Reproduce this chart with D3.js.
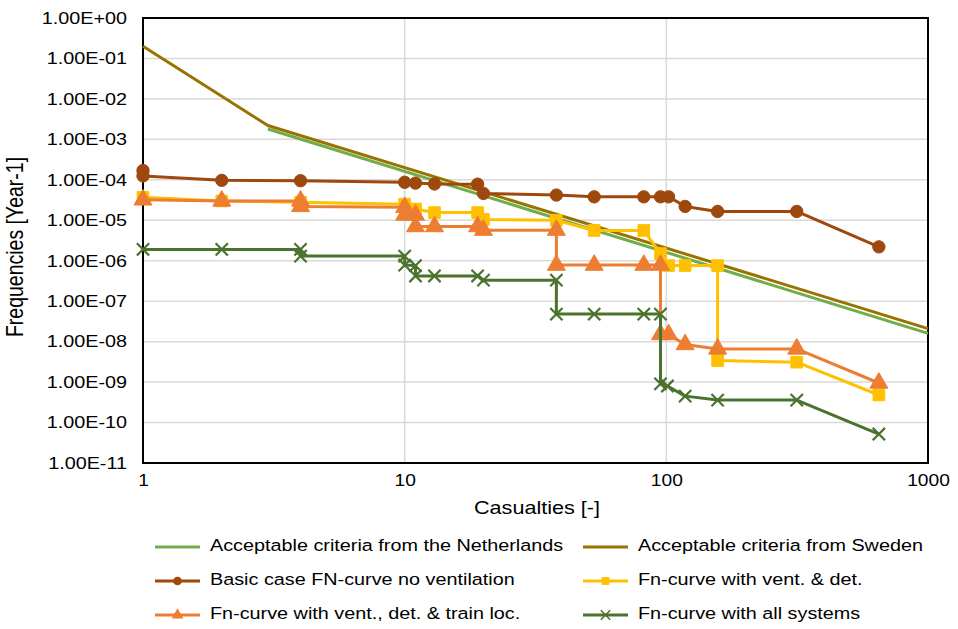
<!DOCTYPE html>
<html lang="en">
<head>
    <meta charset="UTF-8">
    <title>FN-curves</title>
    <script src="https://cdnjs.cloudflare.com/ajax/libs/d3/7.8.5/d3.min.js" charset="utf-8"></script>
    <style>
        body { margin: 0; background: #fff; }
        text { font-family: "Liberation Sans", Arial, Helvetica, sans-serif; fill: #000; }
        .grid line { stroke: #d9d9d9; stroke-width: 1.5px; }
    </style>
</head>
<body>
<svg width="958" height="629"></svg>
<script>
    // criteria lines
    var nlN = [3, 1000];
    var nlF = [1.8e-3, 1.6e-8];
    var seN = [1, 3, 1000];
    var seF = [0.2, 2.2e-3, 2.1e-8];

    // basic case, no ventilation
    var basicN = [1, 1, 2, 4, 10, 11, 13, 19, 20, 38, 53, 82, 95, 102, 118, 157, 315, 649];
    var basicF = [1.7e-4, 1.25e-4, 9.7e-5, 9.5e-5, 8.7e-5, 8.3e-5, 7.9e-5, 7.8e-5, 4.6e-5, 4.2e-5, 3.8e-5, 3.8e-5, 3.8e-5, 3.8e-5, 2.2e-5, 1.65e-5, 1.65e-5, 2.2e-6];

    // vent. & det.
    var ventN = [1, 2, 4, 10, 11, 13, 19, 20, 38, 53, 82, 95, 102, 118, 157, 157, 315, 649];
    var ventF = [3.7e-5, 3.0e-5, 2.8e-5, 2.5e-5, 1.9e-5, 1.55e-5, 1.55e-5, 1.05e-5, 1.0e-5, 5.6e-6, 5.6e-6, 1.5e-6, 7.6e-7, 7.6e-7, 7.6e-7, 3.4e-9, 3.1e-9, 4.8e-10];

    // vent., det. & train loc.
    var trainN = [1, 2, 4, 4, 10, 10, 11, 11, 13, 19, 20, 38, 38, 53, 82, 95, 95, 102, 118, 157, 315, 649];
    var trainF = [3.2e-5, 3.0e-5, 3.0e-5, 2.2e-5, 2.1e-5, 1.35e-5, 1.35e-5, 7.0e-6, 7.0e-6, 7.0e-6, 5.7e-6, 5.7e-6, 7.8e-7, 7.8e-7, 7.8e-7, 7.8e-7, 1.5e-8, 1.5e-8, 8.5e-9, 6.6e-9, 6.6e-9, 9.5e-10];

    // all systems
    var allN = [1, 2, 4, 4, 10, 10, 11, 11, 13, 19, 20, 38, 38, 53, 82, 95, 95, 101, 118, 157, 315, 649];
    var allF = [1.9e-6, 1.9e-6, 1.9e-6, 1.3e-6, 1.3e-6, 7.8e-7, 7.6e-7, 4.2e-7, 4.2e-7, 4.2e-7, 3.3e-7, 3.3e-7, 4.8e-8, 4.8e-8, 4.8e-8, 4.8e-8, 9e-10, 8e-10, 4.5e-10, 3.6e-10, 3.6e-10, 5.2e-11];

    var xTicks = [1, 10, 100, 1000];
    var yTicks = [1, 1e-1, 1e-2, 1e-3, 1e-4, 1e-5, 1e-6, 1e-7, 1e-8, 1e-9, 1e-10, 1e-11];

    var series = [
        {name: "Acceptable criteria from the Netherlands", n: nlN, f: nlF, color: "#70ad47", marker: null},
        {name: "Acceptable criteria from Sweden", n: seN, f: seF, color: "#997300", marker: null},
        {name: "Basic case FN-curve no ventilation", n: basicN, f: basicF, color: "#9e480e", marker: "circle"},
        {name: "Fn-curve with vent. & det.", n: ventN, f: ventF, color: "#ffc000", marker: "square"},
        {name: "Fn-curve with vent., det. & train loc.", n: trainN, f: trainF, color: "#ed7d31", marker: "triangle"},
        {name: "Fn-curve with all systems", n: allN, f: allF, color: "#4a732e", marker: "x"}
    ];

    var sx = 1.2; // text looks horizontally stretched in the original

    var svg = d3.select("svg");
    var pLeft = 143, pRight = 928, pTop = 18, pBottom = 463;

    var x = d3.scaleLog().domain([1, 1000]).range([pLeft, pRight]);
    var y = d3.scaleLog().domain([1e-11, 1]).range([pBottom, pTop]);

    // grid
    var grid = svg.append("g").attr("class", "grid");
    grid.selectAll(".h").data(yTicks).enter().append("line")
            .attr("x1", pLeft).attr("x2", pRight)
            .attr("y1", function (d) { return y(d); })
            .attr("y2", function (d) { return y(d); });
    grid.selectAll(".v").data(xTicks).enter().append("line")
            .attr("y1", pTop).attr("y2", pBottom)
            .attr("x1", function (d) { return x(d); })
            .attr("x2", function (d) { return x(d); });

    // frame
    svg.append("rect")
            .attr("x", pLeft).attr("y", pTop)
            .attr("width", pRight - pLeft).attr("height", pBottom - pTop)
            .attr("fill", "none").attr("stroke", "#000").attr("stroke-width", 2);

    function fmtE(d) {
        var e = Math.round(Math.log10(d));
        var s = e < 0 ? "-" : "+";
        var a = Math.abs(e);
        return "1.00E" + s + (a < 10 ? "0" + a : a);
    }

    var xAxis = svg.append("g")
            .attr("transform", "translate(0," + pBottom + ")")
            .call(d3.axisBottom(x).tickValues(xTicks).tickSize(0).tickPadding(12).tickFormat(d3.format("d")));
    xAxis.select(".domain").remove();
    xAxis.selectAll("text")
            .style("font-size", "16px")
            .attr("transform", "scale(" + sx + ",1)");

    var yAxis = svg.append("g")
            .attr("transform", "translate(" + pLeft + ",0)")
            .call(d3.axisLeft(y).tickValues(yTicks).tickSize(0).tickPadding(16).tickFormat(fmtE));
    yAxis.select(".domain").remove();
    yAxis.selectAll("text")
            .style("font-size", "16.5px")
            .attr("x", -16 / sx)
            .attr("transform", "scale(" + sx + ",1)");

    // axis titles
    svg.append("text")
            .attr("transform", "translate(537,509) scale(" + sx + ",1)")
            .attr("text-anchor", "middle")
            .attr("dominant-baseline", "middle")
            .style("font-size", "18px")
            .text("Casualties [-]");
    svg.append("text")
            .attr("transform", "translate(17,247) rotate(-90) scale(1," + sx + ")")
            .attr("text-anchor", "middle")
            .attr("dominant-baseline", "middle")
            .style("font-size", "19.5px")
            .text("Frequencies [Year-1]");

    var symbols = {
        circle: d3.symbol().type(d3.symbolCircle).size(120),
        square: d3.symbol().type(d3.symbolSquare).size(135),
        triangle: d3.symbol().type(d3.symbolTriangle).size(140),
        x: d3.symbol().type(d3.symbolX).size(100)
    };

    function drawMarker(g, m, color, px, py) {
        var p = g.append("path")
                .attr("d", symbols[m]())
                .attr("transform", "translate(" + px + "," + py + ")");
        if (m === "x") {
            p.attr("fill", "none").attr("stroke", color).attr("stroke-width", 2.2);
        } else {
            p.attr("fill", color).attr("stroke", color).attr("stroke-width", 1);
        }
    }

    var line = d3.line()
            .x(function (d) { return x(d[0]); })
            .y(function (d) { return y(d[1]); });

    series.forEach(function (s) {
        var pts = s.n.map(function (n, i) { return [n, s.f[i]]; });
        var g = svg.append("g");
        g.append("path")
                .attr("d", line(pts))
                .attr("fill", "none")
                .attr("stroke", s.color)
                .attr("stroke-width", 3)
                .attr("stroke-linejoin", "round");
        if (s.marker) {
            pts.forEach(function (p) {
                drawMarker(g, s.marker, s.color, x(p[0]), y(p[1]));
            });
        }
    });

    // legend
    var legX = [155, 583], legY = [547, 581, 615];
    var legend = svg.append("g");
    var legTypes = {circle: d3.symbolCircle, square: d3.symbolSquare, triangle: d3.symbolTriangle, x: d3.symbolX};
    series.forEach(function (s, i) {
        var lx = legX[i % 2], ly = legY[Math.floor(i / 2)];
        var g = legend.append("g");
        g.append("line")
                .attr("x1", lx).attr("x2", lx + 45)
                .attr("y1", ly).attr("y2", ly)
                .attr("stroke", s.color).attr("stroke-width", 3);
        if (s.marker) {
            var m = d3.symbol().type(legTypes[s.marker]).size(60);
            var p = g.append("path").attr("d", m()).attr("transform", "translate(" + (lx + 22.5) + "," + ly + ")");
            if (s.marker === "x") p.attr("fill", "none").attr("stroke", s.color).attr("stroke-width", 1.5);
            else p.attr("fill", s.color);
        }
        g.append("text")
                .attr("transform", "translate(" + (lx + 55) + "," + ly + ") scale(" + sx + ",1)")
                .attr("dominant-baseline", "middle")
                .style("font-size", "16.5px")
                .text(s.name);
    });
</script>
</body>
</html>
